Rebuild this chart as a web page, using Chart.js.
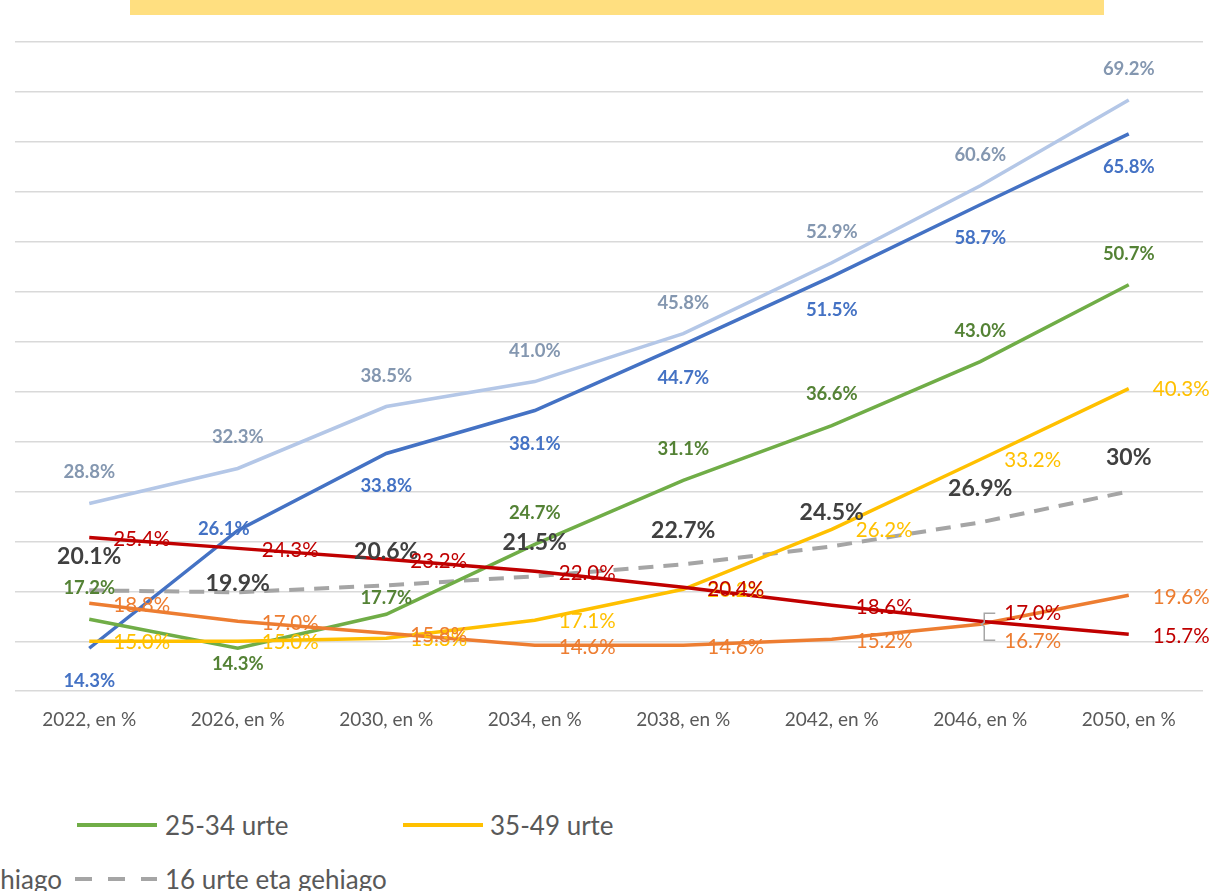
<!DOCTYPE html>
<html>
<head>
<meta charset="utf-8">
<script src="https://cdn.jsdelivr.net/npm/chart.js@4.4.1/dist/chart.umd.min.js"></script>
<style>
  html, body { margin: 0; padding: 0; background: #fff; width: 1214px; height: 891px; overflow: hidden; position: relative; font-family: Lato, sans-serif; }
  #titleBar { position: absolute; left: 130px; top: 0; width: 974px; height: 15px; background: #ffdf80; }
  #wrap { position: absolute; left: 0; top: 0; }
  .leg { position: absolute; color: #595959; font-size: 26px; white-space: nowrap; line-height: 30px; transform: translateY(-50%); }
  .swatch { position: absolute; height: 4px; transform: translateY(-50%); }
</style>
</head>
<body>
<div id="wrap"><canvas id="myChart" width="1214" height="749"></canvas></div>
<div id="titleBar"></div>

<!-- legend (cut off on the left like the original) -->
<div class="swatch" style="left:77px; top:825px; width:80px; background:#70ad47"></div>
<div class="leg" style="left:165px; top:825px">25-34 urte</div>
<div class="swatch" style="left:403px; top:825px; width:80px; background:#ffc000"></div>
<div class="leg" style="left:490px; top:825px">35-49 urte</div>
<div class="leg" style="right:1152px; top:879px">65 urte eta gehiago</div>
<div class="swatch" style="left:75px; top:879px; width:82px; background:repeating-linear-gradient(90deg,#a5a5a5 0 17px,transparent 17px 33px)"></div>
<div class="leg" style="left:165px; top:879px">16 urte eta gehiago</div>

<script>
var years = ["2022, en %", "2026, en %", "2030, en %", "2034, en %", "2038, en %", "2042, en %", "2046, en %", "2050, en %"]

var guztira = [20.1, 19.9, 20.6, 21.5, 22.7, 24.5, 26.9, 30]      // 16 urte eta gehiago (dashed)
var argiUrdina = [28.8, 32.3, 38.5, 41.0, 45.8, 52.9, 60.6, 69.2]
var urdina = [14.3, 26.1, 33.8, 38.1, 44.7, 51.5, 58.7, 65.8]
var urte25_34 = [17.2, 14.3, 17.7, 24.7, 31.1, 36.6, 43.0, 50.7]
var urte35_49 = [15.0, 15.0, 15.3, 17.1, 20.2, 26.2, 33.2, 40.3]
var laranja = [18.8, 17.0, 15.8, 14.6, 14.6, 15.2, 16.7, 19.6]
var gorria = [25.4, 24.3, 23.2, 22.0, 20.4, 18.6, 17.0, 15.7]

var yMin = 10, yMax = 75, yStep = 5

// label look per dataset (same order as datasets below)
var labelLook = [
    { color: '#c00000', font: '20.5px Lato', align: 'left', dx: 24, dy: 2, fixed: true },
    { color: '#ed7d31', font: '20.5px Lato', align: 'left', dx: 24, dy: 2, fixed: true },
    { color: '#ffc000', font: '20.5px Lato', align: 'left', dx: 24, dy: 1, fixed: true },
    { color: '#548235', font: 'bold 18.5px Lato', align: 'center', dx: 0, dy: -31, fixed: true },
    { color: '#4472c4', font: 'bold 18.5px Lato', align: 'center', dx: 0, dy: 33, fixed: true },
    { color: '#8497b0', font: 'bold 18.5px Lato', align: 'center', dx: 0, dy: -31, fixed: true },
    { color: '#404040', font: 'bold 23px Lato', align: 'center', dx: 0, dy: -34, fixed: false }
]
// labels moved by hand in the original
var labelMoves = {
    0: { 6: [24, -8] },
    1: { 6: [24, 17] },
    3: { 1: [0, 16], 2: [0, -16] },
    4: { 1: [-14, -1] },
    6: { 1: [0, -9] }
}

var valueLabels = {
    id: 'valueLabels',
    afterDatasetsDraw: function (chart) {
        var ctx = chart.ctx
        ctx.save()
        // leader bracket for the two labels at 2046
        var p = chart.getDatasetMeta(1).data[6]
        ctx.strokeStyle = '#a6a6a6'
        ctx.lineWidth = 1.5
        ctx.beginPath()
        ctx.moveTo(p.x + 15, p.y - 11)
        ctx.lineTo(p.x + 4, p.y - 11)
        ctx.lineTo(p.x + 4, p.y - 2)
        ctx.lineTo(p.x + 1, p.y)
        ctx.lineTo(p.x + 4, p.y + 2)
        ctx.lineTo(p.x + 4, p.y + 16)
        ctx.lineTo(p.x + 15, p.y + 16)
        ctx.stroke()

        for (var i = chart.data.datasets.length - 1; i >= 0; i--) {
            var ds = chart.data.datasets[i]
            var look = labelLook[i]
            var meta = chart.getDatasetMeta(i)
            ctx.font = look.font
            ctx.fillStyle = look.color
            ctx.textAlign = look.align
            ctx.textBaseline = 'middle'
            meta.data.forEach(function (pt, j) {
                var dx = look.dx, dy = look.dy
                if (labelMoves[i] && labelMoves[i][j]) {
                    dx = labelMoves[i][j][0]
                    dy = labelMoves[i][j][1]
                }
                var v = ds.data[j]
                var txt = (look.fixed ? v.toFixed(1) : String(v)) + '%'
                ctx.fillText(txt, pt.x + dx, pt.y + dy)
            })
        }
        ctx.restore()
    }
}

function lineSet(label, data, color, dash) {
    return {
        label: label,
        data: data,
        borderColor: color,
        backgroundColor: color,
        borderWidth: dash ? 4 : 3.5,
        borderDash: dash || [],
        pointRadius: 0,
        tension: 0,
        fill: false
    }
}

var ctx = document.getElementById('myChart').getContext('2d')
var myChart = new Chart(ctx, {
    type: 'line',
    data: {
        labels: years,
        datasets: [
            lineSet('50-64 urte', gorria, '#c00000'),
            lineSet('65 urte eta gehiago', laranja, '#ed7d31'),
            lineSet('35-49 urte', urte35_49, '#ffc000'),
            lineSet('25-34 urte', urte25_34, '#70ad47'),
            lineSet('16-24 urte', urdina, '#4472c4'),
            lineSet('16-24 urte (b)', argiUrdina, '#b4c7e7'),
            lineSet('16 urte eta gehiago', guztira, '#a5a5a5', [15, 10])
        ]
    },
    options: {
        responsive: false,
        animation: false,
        layout: { padding: { left: 15, right: 11, top: 42, bottom: 9 } },
        plugins: {
            legend: { display: false },
            tooltip: { enabled: false }
        },
        scales: {
            x: {
                offset: true,
                grid: { display: false },
                border: { display: false },
                ticks: { color: '#595959', font: { family: 'Lato', size: 19 }, padding: 9, maxRotation: 0 }
            },
            y: {
                min: yMin,
                max: yMax,
                ticks: { display: false, stepSize: yStep },
                grid: { color: '#d9d9d9', lineWidth: 1.5, drawTicks: false },
                border: { display: false }
            }
        }
    },
    plugins: [valueLabels]
})
</script>
</body>
</html>
